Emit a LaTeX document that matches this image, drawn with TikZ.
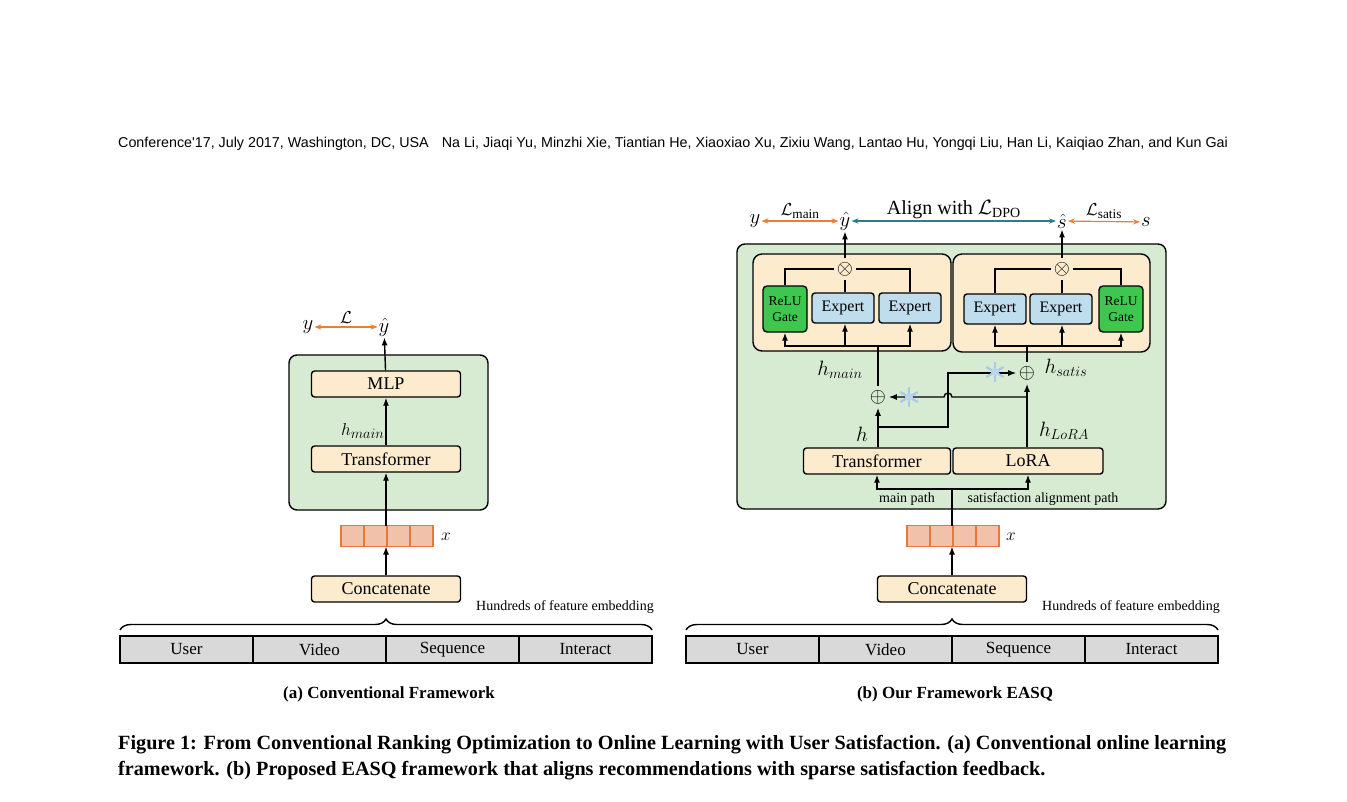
\documentclass[tikz,border=0pt]{standalone}
\usepackage{fontspec}
\setmainfont{Liberation Serif}
\newfontfamily\headfont{Liberation Sans}
\usetikzlibrary{positioning,decorations.pathreplacing,arrows.meta,calc}

\definecolor{panelgreen}{HTML}{D6EBD2}
\definecolor{boxorange}{HTML}{FCEBCD}
\definecolor{expertblue}{HTML}{BFDDEC}
\definecolor{gategreen}{HTML}{3DC74E}
\definecolor{cellfill}{HTML}{F2C1A9}
\definecolor{celldraw}{HTML}{E8773A}
\definecolor{bargray}{HTML}{D9D9D9}
\definecolor{lossorange}{HTML}{ED7D31}
\definecolor{alignteal}{HTML}{2E7D8C}
\definecolor{flakeblue}{HTML}{A9C8EA}

\tikzset{
  panel/.style={draw,line width=1.4pt,fill=panelgreen,rounded corners=8pt},
  moe/.style={draw,line width=1.4pt,fill=boxorange,rounded corners=9pt},
  block/.style={draw,line width=1.4pt,fill=boxorange,rounded corners=3pt,minimum width=149pt,minimum height=26pt,inner sep=0pt,font=\fontsize{18}{20}\selectfont},
  expert/.style={draw,line width=1.4pt,fill=expertblue,rounded corners=3pt,minimum width=62pt,minimum height=30pt,inner sep=0pt,font=\fontsize{16}{18}\selectfont},
  gate/.style={draw,line width=1.4pt,fill=gategreen,rounded corners=4pt,minimum width=44pt,minimum height=46pt,inner sep=0pt,align=center,font=\fontsize{13.5}{16}\selectfont},
  cell/.style={draw=celldraw,line width=1.3pt,fill=cellfill,minimum width=23pt,minimum height=21pt,inner sep=0pt},
  field/.style={draw,line width=1.6pt,fill=bargray,minimum width=133pt,minimum height=27pt,inner sep=0pt,font=\fontsize{17}{19}\selectfont},
  opnode/.style={circle,inner sep=0pt,minimum size=14pt,font=\fontsize{20}{20}\selectfont},
  lbl/.style={inner sep=1pt,font=\fontsize{22}{24}\selectfont},
  small/.style={inner sep=1pt,font=\fontsize{14}{16}\selectfont},
  flow/.style={line width=1.4pt,-{Latex[length=8pt,width=6pt]}},
  wire/.style={line width=1.4pt},
  loss/.style={line width=1.2pt,{Stealth[length=7pt]}-{Stealth[length=7pt]},draw=lossorange},
}
\newcommand{\flake}[1]{%
  \foreach \ang in {90,150,210} {\draw[flakeblue,line width=2.2pt] ($(#1)+(\ang:10pt)$) -- ($(#1)+(\ang+180:10pt)$);}%
  \fill[flakeblue!80] (#1) circle (4pt);}

\begin{document}
\begin{tikzpicture}[x=1pt,y=-1pt]
\useasboundingbox (0,0) rectangle (1347,801);

% running header
\node[anchor=base west,inner sep=0pt,font=\headfont\fontsize{14.3}{16}\selectfont] (head) at (118,147)
  {Conference'17, July 2017, Washington, DC, USA\hspace{13pt}Na Li, Jiaqi Yu, Minzhi Xie, Tiantian He, Xiaoxiao Xu, Zixiu Wang, Lantao Hu, Yongqi Liu, Han Li, Kaiqiao Zhan, and Kun Gai};

%%% (a) conventional framework
\draw[panel] (289,355) rectangle (488,510);
\node[block] (mlpA) at (386,384) {MLP};
\node[block] (trA) at (386,459) {Transformer};
\node[block] (catA) at (386,589) {Concatenate};
\foreach \i in {1,...,4} {\node[cell] (xa\i) at (341+23*\i-11.5,536) {};}
\coordinate (xA) at (386,525.5);
\coordinate (xAb) at (386,546.5);
\node[lbl,font=\fontsize{18}{20}\selectfont] (xlabA) at (446,537) {$x$};
\draw[flow] (catA) -- (xAb);
\draw[flow] (xA) -- (trA);
\draw[flow] (trA) -- (mlpA) node[pos=0.3,left,lbl,font=\fontsize{19}{21}\selectfont] {$h_{main}$};
\node[lbl] (yhatA) at (384,327) {$\hat{y}$};
\node[lbl] (yA) at (308,327) {$y$};
\draw[flow] (mlpA) -- (yhatA);
\draw[loss] (yA) -- (yhatA) node[midway,above=2pt,lbl,font=\fontsize{19}{21}\selectfont] {$\mathcal{L}$};
\foreach \n [count=\i] in {User,Video,Sequence,Interact} {\node[field] (fa\i) at (120+133*\i-66.5,649.5) {\n};}
\draw[decorate,decoration={brace,amplitude=11pt},line width=1.4pt] (120,630) -- (652,630);
\node[small,anchor=south east] (hundA) at (655,615) {Hundreds of feature embedding};
\node[font=\bfseries\fontsize{17}{19}\selectfont] (capA) at (389,694) {(a) Conventional Framework};

%%% (b) our framework
\draw[panel] (737,244) rectangle (1166,509);
\draw[moe] (753,254) rectangle (951,351);
\draw[moe] (953,254) rectangle (1150,352);
\node[block,minimum width=147pt] (trB) at (877,461) {Transformer};
\node[block,minimum width=150pt] (lora) at (1028,461) {LoRA};
\node[block] (catB) at (952,589) {Concatenate};
\foreach \i in {1,...,4} {\node[cell] (xb\i) at (907+23*\i-11.5,536) {};}
\coordinate (xB) at (952,525.5);
\coordinate (xBb) at (952,546.5);
\node[lbl,font=\fontsize{18}{20}\selectfont] (xlabB) at (1011,537) {$x$};
\draw[flow] (catB) -- (xBb);
\foreach \n [count=\i] in {User,Video,Sequence,Interact} {\node[field] (fb\i) at (686+133*\i-66.5,649.5) {\n};}
\draw[decorate,decoration={brace,amplitude=11pt},line width=1.4pt] (686,630) -- (1218,630);
\node[small,anchor=south east] (hundB) at (1221,615) {Hundreds of feature embedding};
\node[font=\bfseries\fontsize{17}{19}\selectfont] (capB) at (955,694) {(b) Our Framework EASQ};

% paths into the backbone
\coordinate (split) at (952,489);
\draw[wire] (xB) -- (split);
\draw[flow] (split) -- (877,489) -- (trB);
\draw[flow] (split) -- (1028,489) -- (lora);
\node[small] (mainp) at (907,499) {main path};
\node[small] (satp) at (1043,499) {satisfaction alignment path};

% experts
\node[gate] (gateL) at (785,309) {ReLU\\Gate};
\node[expert] (expL1) at (843,308) {Expert};
\node[expert] (expL2) at (910,308) {Expert};
\node[expert] (expR1) at (995,309) {Expert};
\node[expert] (expR2) at (1061,309) {Expert};
\node[gate] (gateR) at (1121,309) {ReLU\\Gate};
\node[opnode] (mulL) at (845,269) {$\otimes$};
\node[opnode] (mulR) at (1062,269) {$\otimes$};
\draw[wire] (gateL) |- (mulL);
\draw[wire] (expL2) |- (mulL);
\draw[wire] (expL1.north -| mulL) -- (mulL);
\draw[wire] (expR1) |- (mulR);
\draw[wire] (gateR) |- (mulR);
\draw[wire] (expR2.north -| mulR) -- (mulR);

% sums
\node[opnode] (addL) at (878,397) {$\oplus$};
\node[opnode] (addR) at (1027,373) {$\oplus$};
\coordinate (fanL) at (878,346);
\coordinate (fanR) at (1027,346);
\draw[wire] (addL) -- (fanL);
\draw[wire] (addR) -- (fanR);
\draw[flow] (fanL) -| (gateL);
\draw[flow] (fanL) -| (expL1.south -| mulL);
\draw[flow] (fanL) -| (expL2);
\draw[flow] (fanR) -| (expR1);
\draw[flow] (fanR) -| (expR2.south -| mulR);
\draw[flow] (fanR) -| (gateR);

\coordinate (hbr) at (878,427);
\coordinate (lbr) at (1027,397);
\draw[flow] (trB.north -| addL) -- (addL);
\draw[flow] (lora.north -| addR) -- (addR);
\draw[flow] (hbr) -- (948,427) -- (948,373) -- (addR);
\draw[flow] (lbr) -- (952,397) arc (0:-180:4) -- (addL);
\flake{909,397}
\flake{995,372}
\node[lbl,font=\fontsize{20}{22}\selectfont] (hlab) at (862,434) {$h$};
\node[lbl,font=\fontsize{20}{22}\selectfont] (hlora) at (1064,431) {$h_{LoRA}$};
\node[lbl,font=\fontsize{20}{22}\selectfont] (hmain) at (840,370) {$h_{main}$};
\node[lbl,font=\fontsize{20}{22}\selectfont] (hsatis) at (1066,368) {$h_{satis}$};

% outputs
\node[lbl] (yhatB) at (845,221) {$\hat{y}$};
\node[lbl] (shat) at (1062,221) {$\hat{s}$};
\node[lbl] (yB) at (755,221) {$y$};
\node[lbl] (sB) at (1146,222) {$s$};
\draw[flow] (mulL) -- (yhatB);
\draw[flow] (mulR) -- (shat);
\draw[loss] (yB) -- (yhatB) node[midway,above=1pt,lbl,font=\fontsize{19}{21}\selectfont] {$\mathcal{L}_{\mathrm{main}}$};
\draw[loss] (shat) -- (sB) node[midway,above=1pt,lbl,font=\fontsize{19}{21}\selectfont] {$\mathcal{L}_{\mathrm{satis}}$};
\draw[loss,draw=alignteal] (yhatB) -- (shat) node[midway,above=1pt,lbl,font=\fontsize{20}{22}\selectfont] {Align with $\mathcal{L}_{\mathrm{DPO}}$};

% figure caption
\node[anchor=base west,inner sep=0pt,font=\bfseries\fontsize{20.2}{22}\selectfont] (cap1) at (118,749) {Figure 1: From Conventional Ranking Optimization to Online Learning with User Satisfaction. (a) Conventional online learning};
\node[anchor=base west,inner sep=0pt,font=\bfseries\fontsize{20.2}{22}\selectfont] (cap2) at (118,775) {framework. (b) Proposed EASQ framework that aligns recommendations with sparse satisfaction feedback.};
\end{tikzpicture}
\end{document}
